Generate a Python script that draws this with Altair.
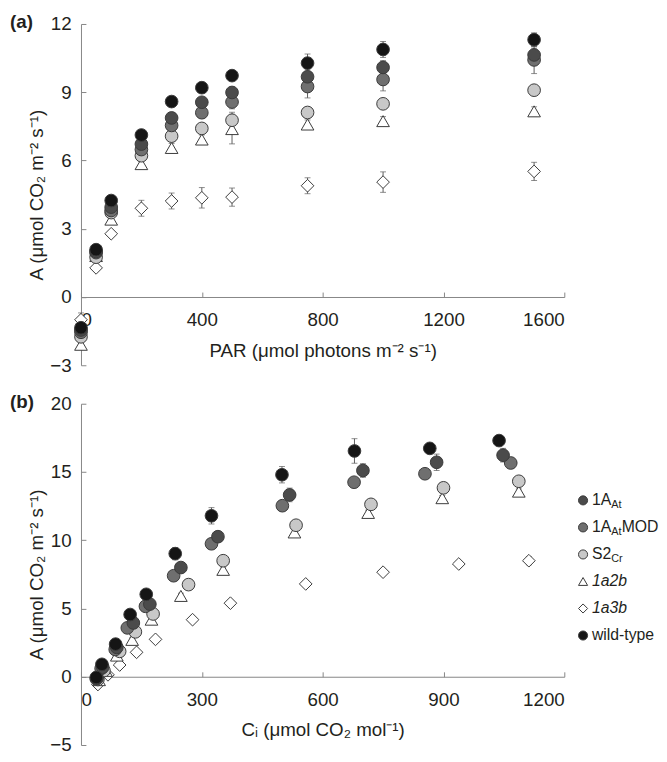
import altair as alt
import pandas as pd

FONT = "Liberation Sans"
TXT = "#231f20"
AXC = "#858585"
EBC = "#5c5c5c"

SERIES = ["1A_At", "1A_AtMOD", "S2_Cr", "1a2b", "1a3b", "wild-type"]
DRAW_ORDER = ["1a3b", "1a2b", "S2_Cr", "1A_AtMOD", "1A_At", "wild-type"]
SHAPES = ["circle", "circle", "circle", "triangle-up", "diamond", "circle"]
FILLS = ["#4b4b4b", "#6f6f6f", "#c8c8c8", "#ffffff", "#ffffff", "#151515"]

# legend texts
LEG_MAIN = ["1A", "1A", "S2", "1a2b", "1a3b", "wild-type"]
LEG_SUB = ["At", "At", "Cr", "", "", ""]
LEG_SUFFIX = ["", "MOD", "", "", "", ""]
LEG_ITALIC = ["1a2b", "1a3b"]

# ---------------- panel (a): light response ----------------
PAR = [0, 50, 100, 200, 300, 400, 500, 750, 1000, 1500]
A_PAR_1A = [-1.45, 2.0, 3.95, 6.72, 7.87, 8.56, 8.99, 9.68, 10.09, 10.64]
A_PAR_MOD = [-1.55, 1.95, 3.8, 6.48, 7.54, 8.1, 8.57, 9.25, 9.56, 10.42]
A_PAR_S2 = [-1.75, 1.75, 3.71, 6.21, 7.07, 7.41, 7.77, 8.11, 8.49, 9.09]
A_PAR_1A2B = [-2.1, 1.8, 3.4, 5.84, 6.55, 6.92, 7.38, 7.58, 7.73, 8.16]
A_PAR_1A3B = [-1.0, 1.28, 2.78, 3.9, 4.22, 4.36, 4.39, 4.89, 5.05, 5.52]
A_PAR_WT = [-1.35, 2.08, 4.24, 7.12, 8.59, 9.2, 9.73, 10.28, 10.88, 11.31]

E_PAR_1A = [0.1, 0.1, 0.1, 0.15, 0.2, 0.2, 0.25, 0.3, 0.3, 0.3]
E_PAR_MOD = [0.1, 0.1, 0.1, 0.15, 0.25, 0.25, 0.3, 0.5, 0.5, 0.6]
E_PAR_S2 = [0.1, 0.1, 0.1, 0.15, 0.2, 0.2, 0.35, 0.2, 0.2, 0.2]
E_PAR_1A2B = [0.2, 0.1, 0.1, 0.15, 0.2, 0.2, 0.65, 0.2, 0.2, 0.2]
E_PAR_1A3B = [0.3, 0.1, 0.1, 0.35, 0.35, 0.45, 0.4, 0.35, 0.45, 0.4]
E_PAR_WT = [0.15, 0.1, 0.1, 0.15, 0.2, 0.2, 0.2, 0.4, 0.35, 0.3]

# ---------------- panel (b): A/Ci response ----------------
CI_1A = [40, 54, 89, 130, 171, 248, 340, 518, 700, 883, 1048]
CI_MOD = [38, 50, 85, 115, 160, 230, 324, 500, 678, 854, 1067]
CI_S2 = [42, 57, 96, 135, 179, 267, 353, 534, 720, 900, 1087]
CI_1A2B = [45, 62, 89, 127, 175, 248, 353, 530, 713, 897, 1087]
CI_1A3B = [42, 67, 96, 138, 185, 277, 371, 558, 750, 938, 1112]
CI_WT = [38, 52, 86, 122, 162, 234, 324, 499, 679, 866, 1038]

A_CI_1A = [-0.1, 0.7, 2.15, 3.94, 5.32, 8.0, 10.26, 13.32, 15.11, 15.71, 16.23]
A_CI_MOD = [-0.15, 0.6, 2.0, 3.58, 5.16, 7.4, 9.74, 12.53, 14.25, 14.87, 15.66]
A_CI_S2 = [-0.2, 0.45, 1.86, 3.29, 4.6, 6.75, 8.5, 11.1, 12.63, 13.84, 14.32]
A_CI_1A2B = [-0.25, 0.43, 1.55, 2.7, 4.18, 5.92, 7.83, 10.57, 12.0, 13.08, 13.56]
A_CI_1A3B = [-0.57, 0.14, 0.86, 1.79, 2.74, 4.18, 5.39, 6.8, 7.66, 8.26, 8.5]
A_CI_WT = [-0.05, 0.91, 2.39, 4.56, 6.04, 9.02, 11.79, 14.8, 16.54, 16.73, 17.3]

E_CI_1A = [0.1, 0.1, 0.15, 0.2, 0.25, 0.3, 0.3, 0.5, 0.5, 0.6, 0.5]
E_CI_MOD = [0.1, 0.1, 0.15, 0.2, 0.2, 0.3, 0.2, 0.35, 0.3, 0.3, 0.4]
E_CI_S2 = [0.1, 0.1, 0.1, 0.15, 0.2, 0.2, 0.2, 0.2, 0.2, 0.2, 0.3]
E_CI_1A2B = [0.1, 0.1, 0.1, 0.15, 0.2, 0.2, 0.2, 0.2, 0.2, 0.2, 0.2]
E_CI_1A3B = [0.1, 0.1, 0.1, 0.1, 0.1, 0.15, 0.15, 0.15, 0.15, 0.2, 0.3]
E_CI_WT = [0.1, 0.15, 0.2, 0.25, 0.3, 0.45, 0.6, 0.6, 0.9, 0.3, 0.35]

PAR_TICKS = [0, 400, 800, 1200, 1600]
A1_TICKS = [-3, 0, 3, 6, 9, 12]
CI_TICKS = [0, 300, 600, 900, 1200]
A2_TICKS = [-5, 0, 5, 10, 15, 20]

light = {
    "1A_At": (A_PAR_1A, E_PAR_1A), "1A_AtMOD": (A_PAR_MOD, E_PAR_MOD),
    "S2_Cr": (A_PAR_S2, E_PAR_S2), "1a2b": (A_PAR_1A2B, E_PAR_1A2B),
    "1a3b": (A_PAR_1A3B, E_PAR_1A3B), "wild-type": (A_PAR_WT, E_PAR_WT),
}
aci = {
    "1A_At": (CI_1A, A_CI_1A, E_CI_1A), "1A_AtMOD": (CI_MOD, A_CI_MOD, E_CI_MOD),
    "S2_Cr": (CI_S2, A_CI_S2, E_CI_S2), "1a2b": (CI_1A2B, A_CI_1A2B, E_CI_1A2B),
    "1a3b": (CI_1A3B, A_CI_1A3B, E_CI_1A3B), "wild-type": (CI_WT, A_CI_WT, E_CI_WT),
}

rows_a = []
for s in DRAW_ORDER:
    a_vals, e_vals = light[s]
    for x, a, e in zip(PAR, a_vals, e_vals):
        rows_a.append({"series": s, "x": x, "A": a, "err": e})
df_a = pd.DataFrame(rows_a)

rows_b = []
for s in DRAW_ORDER:
    c_vals, a_vals, e_vals = aci[s]
    for x, a, e in zip(c_vals, a_vals, e_vals):
        rows_b.append({"series": s, "x": x, "A": a, "err": e})
df_b = pd.DataFrame(rows_b)

W, H = 490, 346

fill_scale = alt.Scale(domain=SERIES, range=FILLS)
shape_scale = alt.Scale(domain=SERIES, range=SHAPES)


def panel(df, xdom, xvals, ydom, yvals, xtitle, ytitle, tag):
    frac0 = (0 - ydom[0]) / (ydom[1] - ydom[0])
    off_bottom = -H * frac0
    off_top = -H * (1 - frac0)
    xs = alt.Scale(domain=xdom, nice=False, zero=False)
    ys = alt.Scale(domain=ydom, nice=False, zero=False)

    base = alt.Chart(df).transform_calculate(
        lo="datum.A - datum.err", hi="datum.A + datum.err"
    )
    # error bar stems; this layer carries the inward-pointing tick axes
    stems = base.mark_rule(color=EBC, strokeWidth=1).encode(
        x=alt.X("x:Q", scale=xs, axis=alt.Axis(
            orient="top", offset=off_top, values=xvals, labels=False,
            domain=False, ticks=True, tickSize=5, tickColor=AXC,
            tickWidth=1, grid=False, title=None)),
        y=alt.Y("lo:Q", scale=ys, axis=alt.Axis(
            orient="right", offset=-W, values=yvals, labels=False,
            domain=False, ticks=True, tickSize=5, tickColor=AXC,
            tickWidth=1, grid=False, title=None)),
        y2="hi:Q",
    )
    caps = base.transform_fold(["lo", "hi"], as_=["end", "v"]).mark_tick(
        orient="horizontal", color=EBC, size=6, thickness=1
    ).encode(
        x=alt.X("x:Q", scale=xs, axis=None),
        y=alt.Y("v:Q", scale=ys, axis=None),
    )
    pts = alt.Chart(df).mark_point(
        filled=True, size=165, stroke="#3a3a3a", strokeWidth=1, opacity=1
    ).encode(
        x=alt.X("x:Q", scale=xs, axis=alt.Axis(
            orient="bottom", offset=off_bottom, values=xvals, format="d",
            ticks=False, domain=True, domainColor=AXC, domainWidth=1,
            grid=False, labelFont=FONT, labelFontSize=19, labelColor=TXT,
            labelPadding=14, title=xtitle, titleFont=FONT,
            titleFontSize=19, titleFontWeight="normal", titleColor=TXT,
            titlePadding=12)),
        y=alt.Y("A:Q", scale=ys, axis=alt.Axis(
            orient="left", values=yvals, format="d", ticks=False,
            domain=True, domainColor=AXC, domainWidth=1, grid=False,
            labelFont=FONT, labelFontSize=19, labelColor=TXT,
            labelPadding=10, title=ytitle, titleFont=FONT,
            titleFontSize=19, titleFontWeight="normal", titleColor=TXT,
            titlePadding=3)),
        fill=alt.Fill("series:N", scale=fill_scale, legend=None),
        shape=alt.Shape("series:N", scale=shape_scale, legend=None),
    )
    label = alt.Chart(pd.DataFrame({"tag": [tag]})).mark_text(
        font=FONT, fontSize=19, fontWeight="bold", color=TXT,
        align="left", baseline="middle"
    ).encode(text="tag:N", x=alt.value(-72), y=alt.value(-2))

    return alt.layer(stems, caps, pts, label).resolve_axis(
        x="independent", y="independent"
    ).properties(width=W, height=H)


chart_a = panel(df_a, [0, 1600], PAR_TICKS, [-3, 12], A1_TICKS,
                "PAR (μmol photons m⁻² s⁻¹)", "A (μmol CO₂ m⁻² s⁻¹)", "(a)")
chart_b = panel(df_b, [0, 1200], CI_TICKS, [-5, 20], A2_TICKS,
                "Cᵢ  (μmol CO₂ mol⁻¹)", "A (μmol CO₂ m⁻² s⁻¹)", "(b)")

# ---------------- legend ----------------
leg_df = pd.DataFrame({"series": SERIES, "main": LEG_MAIN,
                       "sub": LEG_SUB, "suffix": LEG_SUFFIX})
ly = alt.Y("series:N", scale=alt.Scale(type="point", domain=SERIES,
                                        range=[98, 235], padding=0), axis=None)
leg_base = alt.Chart(leg_df)
is_italic = alt.FieldOneOfPredicate(field="series", oneOf=LEG_ITALIC)
leg_pts = leg_base.mark_point(filled=True, size=85, stroke="#3a3a3a",
                              strokeWidth=1, opacity=1).encode(
    y=ly, x=alt.value(7),
    fill=alt.Fill("series:N", scale=fill_scale, legend=None),
    shape=alt.Shape("series:N", scale=shape_scale, legend=None),
)
txt_kw = dict(font=FONT, color=TXT, align="left", baseline="middle")
leg_main = leg_base.transform_filter(~is_italic).mark_text(
    fontSize=16, **txt_kw).encode(y=ly, x=alt.value(16), text="main:N")
leg_ital = leg_base.transform_filter(is_italic).mark_text(
    fontSize=16, fontStyle="italic", **txt_kw).encode(
    y=ly, x=alt.value(16), text="main:N")
leg_sub = leg_base.mark_text(fontSize=11, dx=19.6, dy=5, **txt_kw).encode(
    y=ly, x=alt.value(16), text="sub:N")
leg_suf = leg_base.mark_text(fontSize=16, dx=30.2, **txt_kw).encode(
    y=ly, x=alt.value(16), text="suffix:N")
legend = alt.layer(leg_pts, leg_main, leg_ital, leg_sub, leg_suf).properties(
    width=70, height=H)

row_b = alt.hconcat(chart_b, legend, spacing=12, bounds="flush")
chart = alt.vconcat(chart_a, row_b, spacing=39, bounds="flush").properties(
    padding={"left": 2, "top": 0, "right": 0, "bottom": 0}
).configure(
    font=FONT, background="white", view=alt.ViewConfig(strokeWidth=0)
)

chart.save("out.html", embed_options={"renderer": "svg", "actions": False})
